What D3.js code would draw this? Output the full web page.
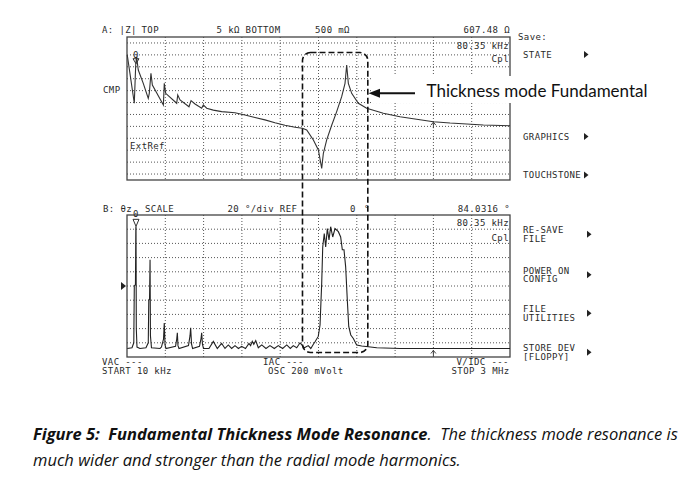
<!DOCTYPE html>
<html>
<head>
<meta charset="utf-8">
<script src="https://cdn.jsdelivr.net/npm/d3@7"></script>
<style>
body { margin: 0; background: #fff; }
svg text.scr { font-family: "DejaVu Sans Mono", monospace; font-size: 9px; letter-spacing: 0.4px; fill: #2a2a2a; }
svg text.cap { font-family: "Open Sans", Lato, sans-serif; font-style: italic; font-size: 16.5px; fill: #111; white-space: pre; }
svg text.note { font-family: Lato, "Open Sans", sans-serif; font-size: 17px; fill: #111; }
</style>
</head>
<body>
<div id="chart"></div>
<script>
// sweep settings
var startKHz = 10, stopKHz = 3000;
var topOhm = 5000, bottomOhm = 0.5;
var phaseRef = 0, phasePerDiv = 20;

// trace A: |Z| (ohm) vs frequency (kHz)
var topFreq = [12, 33, 67, 78, 85, 98, 137, 176, 184, 197, 208, 294, 301, 312, 398, 406, 424, 494, 510, 541,
  593, 606, 632, 684, 749, 853, 931, 1009, 1087, 1165, 1243, 1322, 1379, 1413, 1465, 1504, 1530, 1543, 1569, 1608,
  1647, 1686, 1712, 1725, 1738, 1764, 1816, 1881, 2011, 2141, 2271, 2402, 2532, 2662, 2792, 3000];
var topZ = [1570, 482, 70, 824, 1406, 597, 253, 96, 133, 482, 227, 63, 253, 133, 70, 119, 87, 56, 83, 67,
  51, 63, 51, 45, 41, 38, 33, 28, 24, 20, 17, 14.9, 14, 12.5, 6.6, 3.45, 1.06, 2.8, 6.6, 17,
  41, 107, 253, 824, 253, 133, 70, 51, 37, 29.5, 25, 21.4, 19.6, 18.4, 17.3, 16.5];

// trace B: phase (deg) vs frequency (kHz)
var botFreq = [12, 49, 63, 67, 76, 79, 80.35, 82.6, 88, 111,
  158, 176, 180, 186, 190, 193, 201, 268,
  279, 295, 301, 307, 314,
  389, 398, 403, 408, 416,
  490, 502, 507, 514, 522,
  576, 588, 593, 599, 607,
  650, 684, 715, 749, 775, 801, 827, 853, 880, 905, 935, 962, 975, 988, 1000, 1015, 1035, 1062, 1095, 1126,
  1160, 1191, 1225, 1257, 1285, 1308, 1335, 1361, 1395, 1425, 1445, 1465,
  1478, 1503, 1517, 1530, 1538, 1550, 1561, 1574, 1587, 1600, 1616, 1634, 1660, 1678, 1691, 1704, 1717, 1730,
  1741, 1757, 1777, 1803, 1842, 1894, 1960, 2141, 3000];
var botPhase = [-88, -87, -80, 0, 2, 82, 84, -60, -86, -88,
  -87, -80, -20, -18, 37, -70, -87, -88,
  -86, -75, -52, -83, -88,
  -85, -75, -66, -84, -88,
  -84, -70, -59, -82, -88,
  -85, -74, -66, -82, -88,
  -88, -78, -88, -81, -88, -83, -88, -84, -88, -85, -88, -81, -84, -78, -82, -77, -87, -83, -88, -84,
  -88, -84, -88, -83, -88, -84, -87, -80, -87, -84, -88, -82,
  -78.5, -71, -55, 4, 55, 74, 55, 81, 65, 83.5, 69, 81, 76.5, 69, 51, 51, 27, -20,
  -57, -69, -74, -83, -84.5, -85.5, -87, -88, -88];

// markers
var mkFreq = 80.35, mkZ = 607.48, mkPhase = 84.0316;
var subMkFreq = 2402;
var bandFreq = [1380, 1890];

var menuLabels = [["STATE"], ["GRAPHICS"], ["TOUCHSTONE"], ["RE-SAVE", "FILE"], ["POWER ON", "CONFIG"], ["FILE", "UTILITIES"], ["STORE DEV", "[FLOPPY]"]];

var width = 697, height = 487;
var plotL = 127, plotR = 510;
var topT = 37, topB = 180, botT = 215, botB = 357;

var svg = d3.select('#chart').append('svg')
    .attr('width', width)
    .attr('height', height);
svg.append('rect').attr('width', width).attr('height', height).attr('fill', '#fff');

var x = d3.scaleLinear().domain([startKHz, stopKHz]).range([plotL, plotR]);
var yZ = d3.scaleLog().domain([bottomOhm, topOhm]).range([topB, topT]);
var yP = d3.scaleLinear().domain([phaseRef - 5 * phasePerDiv, phaseRef + 5 * phasePerDiv]).range([botB, botT]);

var gridFreqs = d3.range(1, 10).map(function(i) { return startKHz + i * (stopKHz - startKHz) / 10; });

function scr(xp, yp, t, anchor) {
    return svg.append('text').attr('class', 'scr')
        .attr('x', xp).attr('y', yp)
        .attr('text-anchor', anchor || 'start')
        .text(t);
}

// grids
function vgrid(t, b) {
    svg.append('g').selectAll('line').data(gridFreqs).enter().append('line')
        .attr('x1', function(d) { return x(d); }).attr('x2', function(d) { return x(d); })
        .attr('y1', t).attr('y2', b)
        .attr('stroke', '#555').attr('stroke-width', 1).attr('stroke-dasharray', '1,2');
}
vgrid(topT, topB);
vgrid(botT, botB);

var topRows = d3.range(12).map(function(i) { return topT + (i + 0.5) * (topB - topT) / 12; });
svg.append('g').selectAll('line').data(topRows).enter().append('line')
    .attr('x1', plotL).attr('x2', plotR)
    .attr('y1', function(d) { return d; }).attr('y2', function(d) { return d; })
    .attr('stroke', '#555').attr('stroke-dasharray', '1,2');

svg.append('g').selectAll('line').data(d3.range(-80, 81, 20)).enter().append('line')
    .attr('x1', plotL).attr('x2', plotR)
    .attr('y1', function(d) { return yP(d); }).attr('y2', function(d) { return yP(d); })
    .attr('stroke', '#555').attr('stroke-dasharray', '1,2');

// frames
svg.append('rect').attr('x', plotL).attr('y', topT).attr('width', plotR - plotL).attr('height', topB - topT)
    .attr('fill', 'none').attr('stroke', '#444').attr('stroke-width', 1.3);
svg.append('rect').attr('x', plotL).attr('y', botT).attr('width', plotR - plotL).attr('height', botB - botT)
    .attr('fill', 'none').attr('stroke', '#444').attr('stroke-width', 1.3);

// traces
var lineZ = d3.line()
    .x(function(d) { return x(d[0]); })
    .y(function(d) { return yZ(d[1]); });
var lineP = d3.line()
    .x(function(d) { return x(d[0]); })
    .y(function(d) { return yP(d[1]); });

svg.append('path').attr('d', lineZ(d3.zip(topFreq, topZ)))
    .attr('fill', 'none').attr('stroke', '#333').attr('stroke-width', 1.1);
svg.append('path').attr('d', lineP(d3.zip(botFreq, botPhase)))
    .attr('fill', 'none').attr('stroke', '#222').attr('stroke-width', 1.1);

// markers
var mx = x(mkFreq);
var my = yZ(mkZ) - 6;
svg.append('path').attr('d', 'M' + (mx - 3) + ',' + (my - 5) + 'L' + (mx + 3) + ',' + (my - 5) + 'L' + mx + ',' + my + 'Z')
    .attr('fill', 'none').attr('stroke', '#333');
scr(mx, my - 6, '0', 'middle');
var mpy = yP(mkPhase);
svg.append('path').attr('d', 'M' + (mx - 3) + ',' + (mpy - 7) + 'L' + (mx + 3) + ',' + (mpy - 7) + 'L' + mx + ',' + mpy + 'Z')
    .attr('fill', 'none').attr('stroke', '#333');
scr(mx, mpy - 9, '0', 'middle');

function upArrow(xp, yp) {
    svg.append('path').attr('d', 'M' + xp + ',' + yp + 'v6M' + (xp - 2.5) + ',' + (yp + 3) + 'L' + xp + ',' + yp + 'L' + (xp + 2.5) + ',' + (yp + 3))
        .attr('fill', 'none').attr('stroke', '#444');
}
var si = topFreq.indexOf(subMkFreq);
upArrow(x(subMkFreq), yZ(topZ[si]) + 0.5);
upArrow(x(subMkFreq), yP(-88) + 2);

// ref position marker
svg.append('path').attr('d', 'M' + 121 + ',' + (yP(phaseRef) - 4) + 'l5,4l-5,4Z').attr('fill', '#222');

// header texts
scr(102, 33, 'A: |Z|');
scr(141.5, 33, 'TOP');
scr(216.5, 33, '5 k\u03a9 BOTTOM');
scr(315, 33, '500 m\u03a9');
scr(510, 33, '607.48 \u03a9', 'end');
scr(509, 49, '80.35 kHz', 'end');
scr(509, 62, 'Cpl', 'end');
scr(103, 93, 'CMP');
scr(130, 149, 'ExtRef');

scr(103, 212, 'B: \u03b8z');
scr(145, 212, 'SCALE');
scr(227.5, 212, '20 \u00b0/div REF');
scr(350, 212, '0');
scr(364, 212, '\u00b0');
scr(510, 212, '84.0316 \u00b0', 'end');
scr(509, 226, '80.35 kHz', 'end');
scr(509, 241, 'Cpl', 'end');

scr(102, 365, 'VAC ---');
scr(102, 373.5, 'START 10 kHz');
scr(263, 365, 'IAC ---');
scr(268, 373.5, 'OSC 200 mVolt');
scr(456.5, 365, 'V/IDC ---');
scr(451.5, 373.5, 'STOP 3 MHz');

// soft key menu
scr(518, 40, 'Save:');
var menuY = [57.5, 139.5, 178, 233, 273.5, 312, 351];
var menuArrowX = [584, 584, 584, 587, 587, 587, 587];
menuLabels.forEach(function(lines, i) {
    lines.forEach(function(t, j) { scr(523, menuY[i] + j * 8.5, t); });
    var cy = menuY[i] - 3 + (lines.length - 1) * 4.25;
    svg.append('path').attr('d', 'M' + menuArrowX[i] + ',' + (cy - 3.5) + 'l4.5,3.5l-4.5,3.5Z').attr('fill', '#222');
});

// annotation: dashed band around thickness mode
svg.append('rect')
    .attr('x', x(bandFreq[0])).attr('y', 52.5)
    .attr('width', x(bandFreq[1]) - x(bandFreq[0])).attr('height', 300)
    .attr('rx', 8).attr('ry', 8)
    .attr('fill', 'none').attr('stroke', '#111').attr('stroke-width', 1.6).attr('stroke-dasharray', '6,3');

svg.append('rect').attr('x', 371).attr('y', 76).attr('width', 282).attr('height', 27).attr('fill', '#fff');
svg.append('line').attr('x1', 415).attr('x2', 378).attr('y1', 93.3).attr('y2', 93.3)
    .attr('stroke', '#111').attr('stroke-width', 2);
svg.append('path').attr('d', 'M368.5,93.3L380,88.8L380,97.8Z').attr('fill', '#111');
svg.append('text').attr('class', 'note').attr('x', 426.5).attr('y', 97).text('Thickness mode Fundamental');

// caption
var cap1 = svg.append('text').attr('class', 'cap').attr('x', 33).attr('y', 440);
cap1.append('tspan').attr('font-weight', 'bold').text('Figure 5:  Fundamental Thickness Mode Resonance');
cap1.append('tspan').text('.  The thickness mode resonance is');
svg.append('text').attr('class', 'cap').attr('x', 33).attr('y', 466)
    .text('much wider and stronger than the radial mode harmonics.');
</script>
</body>
</html>
